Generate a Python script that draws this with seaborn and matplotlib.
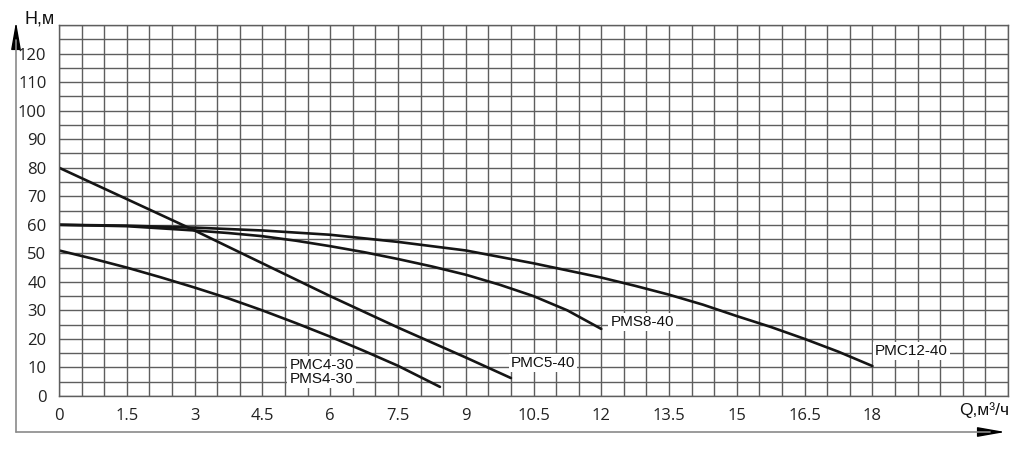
import numpy as np
import pandas as pd
import matplotlib.pyplot as plt
import seaborn as sns
from matplotlib.lines import Line2D

# pump curves (Q in m3/h, H in m)
q_pmc4 = [0, 0.75, 1.5, 2.25, 3, 3.75, 4.5, 5.25, 6, 6.75, 7.5, 8.43]
h_pmc4 = [51, 48.1, 45, 41.6, 38, 34.2, 30, 25.5, 20.8, 15.8, 10.6, 3.2]

q_pmc5 = [0, 1.5, 3, 4.5, 6, 7.5, 9, 10]
h_pmc5 = [80, 69, 58, 46.5, 35, 24, 13.5, 6.3]

q_pms8 = [0, 1.5, 3, 3.75, 4.5, 5.25, 6, 6.75, 7.5, 8.25, 9, 9.75, 10.5, 11.25, 12]
h_pms8 = [60, 59.5, 58, 57.1, 56, 54.4, 52.5, 50.4, 48, 45.4, 42.5, 39, 35, 30, 23.5]

q_pmc12 = [0, 1.5, 3, 4.5, 6, 7.5, 9, 10.5, 12, 12.75, 13.5, 14.25, 15, 15.75, 16.5, 17.25, 18]
h_pmc12 = [60, 59.7, 59, 58, 56.5, 54, 51, 46.5, 41.5, 38.6, 35.5, 32, 28, 24.2, 20, 15.5, 10.5]

models = ["PMC4-30", "PMC5-40", "PMS8-40", "PMC12-40"]
labels = ["PMC4-30\nPMS4-30", "PMC5-40", "PMS8-40", "PMC12-40"]
label_q = [5.1, 10.0, 12.2, 18.05]
label_h = [8.3, 11.5, 25.9, 15.7]

x_ticks = [0, 1.5, 3, 4.5, 6, 7.5, 9, 10.5, 12, 13.5, 15, 16.5, 18]
x_tick_labels = ["0", "1.5", "3", "4.5", "6", "7.5", "9", "10.5", "12", "13.5", "15", "16.5", "18"]
y_ticks = [0, 10, 20, 30, 40, 50, 60, 70, 80, 90, 100, 110, 120]

df = pd.concat([
    pd.DataFrame({"Q": q_pmc4, "H": h_pmc4, "model": models[0]}),
    pd.DataFrame({"Q": q_pmc5, "H": h_pmc5, "model": models[1]}),
    pd.DataFrame({"Q": q_pms8, "H": h_pms8, "model": models[2]}),
    pd.DataFrame({"Q": q_pmc12, "H": h_pmc12, "model": models[3]}),
])

sns.set_style("white")
plt.rcParams["font.family"] = ["Liberation Sans", "DejaVu Sans"]

fig = plt.figure(figsize=(10.24, 4.58), dpi=100)
ax = fig.add_axes([59 / 1024, 62 / 458, (1008 - 59) / 1024, (433 - 62) / 458])

grid_c = "#5e5e5e"
ax.set_xlim(0, 21)
ax.set_ylim(0, 130)
ax.set_xticks(x_ticks)
ax.set_xticklabels(x_tick_labels)
ax.set_xticks(np.arange(0, 21.01, 0.5), minor=True)
ax.set_yticks(y_ticks)
ax.set_yticks(np.arange(0, 130.1, 5), minor=True)
ax.grid(which="both", color=grid_c, lw=1.0)
ax.set_axisbelow(True)
for s in ax.spines.values():
    s.set_color(grid_c)
    s.set_linewidth(1.0)
ax.tick_params(which="major", length=5, width=1.0, color=grid_c, pad=4,
               labelsize=12, labelcolor="#222222")
ax.tick_params(which="minor", length=3, width=1.0, color=grid_c)
for t in ax.get_xticklabels() + ax.get_yticklabels():
    t.set_family(["Open Sans", "DejaVu Sans"])

sns.lineplot(data=df, x="Q", y="H", hue="model", sort=False, estimator=None,
             palette={m: "#151515" for m in models}, lw=1.9, legend=False, ax=ax)
ax.set_xlabel("")
ax.set_ylabel("")

for lab, lq, lh in zip(labels, label_q, label_h):
    ax.text(lq, lh, lab, fontsize=11, color="#111111", ha="left", va="center",
            linespacing=1.0,
            bbox=dict(facecolor="white", edgecolor="none", pad=1.5))

# axis captions
fig.text(24 / 1024, 1 - 19 / 458, "H,м", fontsize=13, ha="left", va="center", color="#111111")
fig.text(1009 / 1024, 1 - 410 / 458, "Q,м³/ч", fontsize=12.5, ha="right", va="center", color="#111111")

# outer arrows
y0 = 26 / 458
x0 = 16 / 1024
fig.add_artist(Line2D([x0, 990 / 1024], [y0, y0], transform=fig.transFigure, color="#8a8a8a", lw=1.2))
fig.add_artist(Line2D([x0, x0], [y0, 1 - 40 / 458], transform=fig.transFigure, color="#8a8a8a", lw=1.2))
ax.annotate("", xy=(1008 / 1024, y0), xytext=(984 / 1024, y0), xycoords="figure fraction",
            arrowprops=dict(arrowstyle="-|>,head_length=1.7,head_width=0.3", color="black", lw=1.0))
ax.annotate("", xy=(x0, 1 - 19 / 458), xytext=(x0, 1 - 45 / 458), xycoords="figure fraction",
            arrowprops=dict(arrowstyle="-|>,head_length=1.7,head_width=0.3", color="black", lw=1.0))

fig.savefig("out.png", dpi=100)
